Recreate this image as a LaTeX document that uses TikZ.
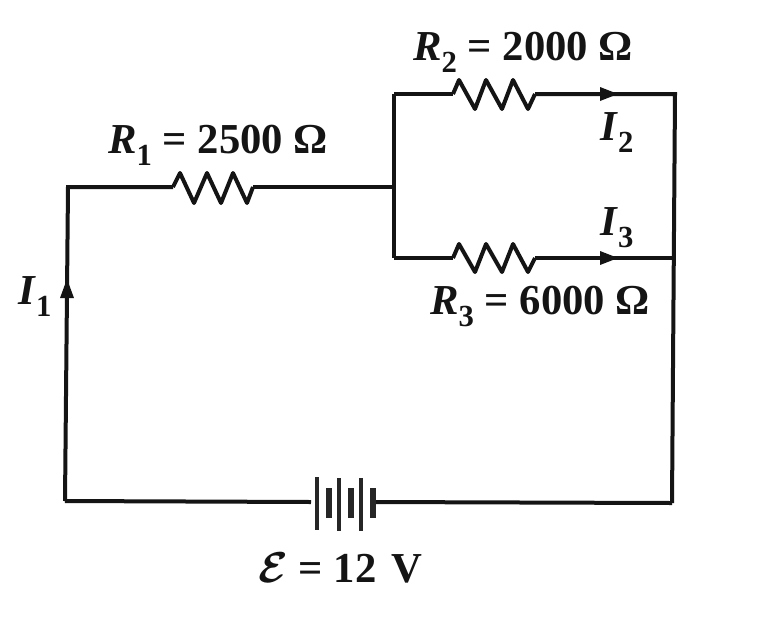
\documentclass[tikz,border=0pt]{standalone}
\usepackage{fontspec}
\usepackage{graphicx}
\setmainfont{Liberation Serif}
\newcommand{\subx}[1]{\raisebox{-0.3em}{\fontsize{23}{23}\selectfont\bfseries #1}}
\tikzset{
  x=0.75pt,y=-0.75pt,
  wire/.style={line width=3pt,black!92,line join=miter},
  rzig/.style={line width=3pt,black!92,line join=round},
  long plate/.style={line width=2.8pt,black!85},
  short plate/.style={line width=5pt,black!85},
  arrowhead/.style={fill=black!92,draw=none},
  lab/.style={inner sep=0pt,anchor=base west,font=\fontsize{32}{32}\selectfont\bfseries,text=black!92}
}
\mathversion{bold}
\begin{document}
\begin{tikzpicture}
\useasboundingbox (0,0) rectangle (767,629);
\fill[white] (0,0) rectangle (767,629);
% junctions
\coordinate (tl) at (68,187);
\coordinate (bl) at (65,501);
\coordinate (br) at (672,503);
\coordinate (tr) at (675,94);
\coordinate (jl) at (394,187);
\coordinate (jt) at (394,94);
\coordinate (jb) at (394,258);
\coordinate (jr) at (674,258);
% resistors
\coordinate (r1a) at (173,187);
\coordinate (r1b) at (253,187);
\coordinate (r2a) at (453,94);
\coordinate (r2b) at (535,94);
\coordinate (r3a) at (453,258);
\coordinate (r3b) at (535,258);
% battery terminals
\coordinate (ba) at (311,502);
\coordinate (bb) at (373,502);
% wires
\draw[wire] (bl) -- (tl) -- (r1a);
\draw[wire] (r1b) -- (jl);
\draw[wire] (jt) -- (jb);
\draw[wire] (jt) -- (r2a);
\draw[wire] (r2b) -- (tr) -- (br);
\draw[wire] (jb) -- (r3a);
\draw[wire] (r3b) -- (jr);
\draw[wire] (bl) -- (ba);
\draw[wire] (bb) -- (br);
% zigzags
\draw[rzig] (r1a) -- ++(7,-14) -- ++(14,30) -- ++(13,-30) -- ++(14,30) -- ++(12,-30) -- ++(14,30) -- (r1b);
\draw[rzig] (r2a) -- ++(6,-14) -- ++(16,29) -- ++(11,-29) -- ++(16,29) -- ++(11,-29) -- ++(15,29) -- (r2b);
\draw[rzig] (r3a) -- ++(6,-14) -- ++(16,28) -- ++(11,-28) -- ++(16,28) -- ++(11,-28) -- ++(15,28) -- (r3b);
% arrowheads
\fill[arrowhead] (618,94) -- (600,87) -- (600,101) -- cycle;
\fill[arrowhead] (618,258) -- (600,251) -- (600,265) -- cycle;
\fill[arrowhead] (67,279) -- (60,298) -- (74,298) -- cycle;
% battery
\draw[long plate] (317,477) -- (317,530);
\draw[short plate] (329,488) -- (329,518);
\draw[long plate] (339,478) -- (339,531);
\draw[short plate] (351,488) -- (351,518);
\draw[long plate] (361,478) -- (361,531);
\draw[short plate] (373,488) -- (373,518);
% labels
\node[lab] (lr1) at (108,153) {\textit{R}\subx{1} = 2500 Ω};
\node[lab] (lr2) at (413,60) {\textit{R}\subx{2} = 2000 Ω};
\node[lab] (lr3) at (430,314) {\textit{R}\subx{3} = 6000 Ω};
\node[lab] (li1) at (18,304) {\textit{I}\subx{1}};
\node[lab] (li2) at (600,140) {\textit{I}\subx{2}};
\node[lab] (li3) at (600,235) {\textit{I}\subx{3}};
\node[lab] (lemf) at (258,582) {\scalebox{1.3}{$\mathcal{E}$} = 12\hspace{0.35em}V};
\end{tikzpicture}
\end{document}
